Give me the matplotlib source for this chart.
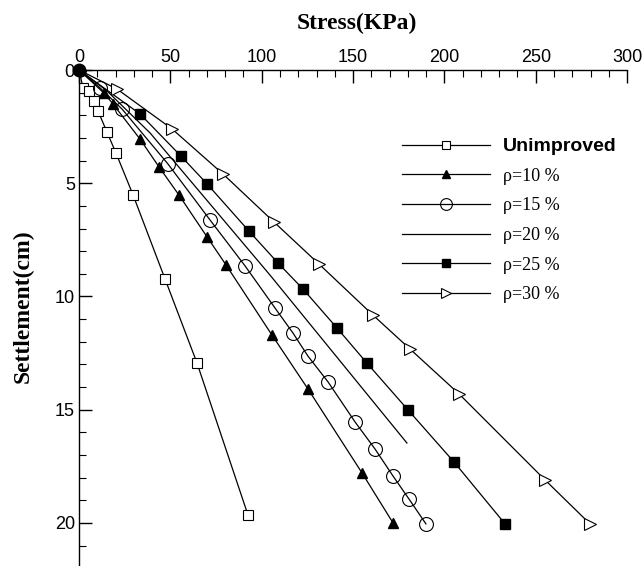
import numpy as np
import matplotlib
matplotlib.use("Agg")
import matplotlib.pyplot as plt
from matplotlib.ticker import MultipleLocator

# data (stress kPa, settlement cm)
x_unimp = [0, 2.2, 5.5, 8.2, 10.4, 15.3, 20.2, 29.6, 47.1, 64.6, 92.5]
y_unimp = [0, 0.79, 0.93, 1.37, 1.81, 2.74, 3.66, 5.52, 9.23, 12.94, 19.65]

x_r10 = [0, 13.7, 18.6, 33.4, 43.8, 54.7, 70.1, 80.5, 105.6, 125.3, 154.9, 171.9]
y_r10 = [0, 1.02, 1.50, 3.05, 4.28, 5.52, 7.37, 8.61, 11.70, 14.08, 17.79, 20.0]

x_r15 = [0, 11.5, 23.5, 48.7, 71.7, 90.9, 107.3, 117.1, 125.3, 136.3, 151.1, 162.0, 171.9, 180.6, 189.9]
y_r15 = [0, 0.79, 1.72, 4.15, 6.62, 8.65, 10.51, 11.61, 12.63, 13.77, 15.54, 16.73, 17.93, 18.94, 20.04]

x_r20 = [0, 15.0, 38.9, 104.5, 179.5]
y_r20 = [0, 0.9, 2.78, 9.05, 16.47]

x_r25 = [0, 33.4, 55.8, 70.1, 93.0, 108.9, 122.6, 141.2, 157.6, 180.1, 205.3, 233.2]
y_r25 = [0, 1.94, 3.80, 5.03, 7.11, 8.52, 9.67, 11.39, 12.94, 15.01, 17.31, 20.04]

x_r30 = [0, 20.8, 50.9, 78.8, 106.7, 131.4, 160.9, 181.2, 208.0, 255.1, 279.7]
y_r30 = [0, 0.84, 2.60, 4.59, 6.71, 8.57, 10.82, 12.32, 14.30, 18.10, 20.04]

labels = ["Unimproved", "\u03c1=10 %", "\u03c1=15 %", "\u03c1=20 %", "\u03c1=25 %", "\u03c1=30 %"]

sans = "Liberation Sans"
serif = "Liberation Serif"

fig = plt.figure(figsize=(6.44, 5.66), dpi=100)
ax = fig.add_axes([0.1227, 0.0, 0.851, 0.8763])

lw = 0.9
ax.plot(x_unimp, y_unimp, 'k-', lw=lw, marker='s', ms=6.5, mfc='white', mew=0.8, label=labels[0])
ax.plot(x_r10, y_r10, 'k-', lw=lw, marker='^', ms=7, mfc='black', label=labels[1])
ax.plot(x_r15, y_r15, 'k-', lw=lw, marker='o', ms=10, mfc='none', mew=0.8, label=labels[2])
ax.plot(x_r20, y_r20, 'k-', lw=lw, label=labels[3])
ax.plot(x_r25, y_r25, 'k-', lw=lw, marker='s', ms=6.5, mfc='black', label=labels[4])
ax.plot(x_r30, y_r30, 'k-', lw=lw, marker='>', ms=8, mfc='white', mew=0.8, label=labels[5])
ax.plot([0], [0], 'ko', ms=9, clip_on=False, zorder=5)

ax.set_xlim(0, 300)
ax.set_ylim(21.9, 0)
ax.xaxis.set_major_locator(MultipleLocator(50))
ax.xaxis.set_minor_locator(MultipleLocator(10))
ax.yaxis.set_major_locator(MultipleLocator(5))
ax.yaxis.set_minor_locator(MultipleLocator(1))
ax.xaxis.tick_top()
ax.spines['right'].set_visible(False)
ax.spines['bottom'].set_visible(False)
for s in ['top', 'left']:
    ax.spines[s].set_linewidth(1.0)
ax.tick_params(which='major', direction='in', length=9, width=1.0, labelsize=13, pad=3)
ax.tick_params(which='minor', direction='in', length=5, width=0.8)
ax.tick_params(axis='x', which='both', top=True, bottom=False)
ax.tick_params(axis='y', which='both', right=False)
for t in ax.get_xticklabels() + ax.get_yticklabels():
    t.set_fontfamily(sans)

# axis titles placed on the figure
fig.text(357 / 644, 1 - 23 / 566, "Stress(KPa)", fontfamily=serif, fontweight='bold',
         fontsize=17, ha='center', va='center')
fig.text(23 / 644, 1 - 306.5 / 566, "Settlement(cm)", fontfamily=serif, fontweight='bold',
         fontsize=17, ha='center', va='center', rotation=90)

leg = ax.legend(loc='upper left', bbox_to_anchor=(0.589, 0.863), frameon=False,
                handlelength=4.9, handletextpad=0.7, labelspacing=0.7,
                borderpad=0, borderaxespad=0, fontsize=13, markerscale=0.85)
for i, t in enumerate(leg.get_texts()):
    if i == 0:
        t.set_fontfamily(sans)
        t.set_fontweight('bold')
        t.set_fontsize(14)
    else:
        t.set_fontfamily(serif)

fig.savefig("out.png", dpi=100)
